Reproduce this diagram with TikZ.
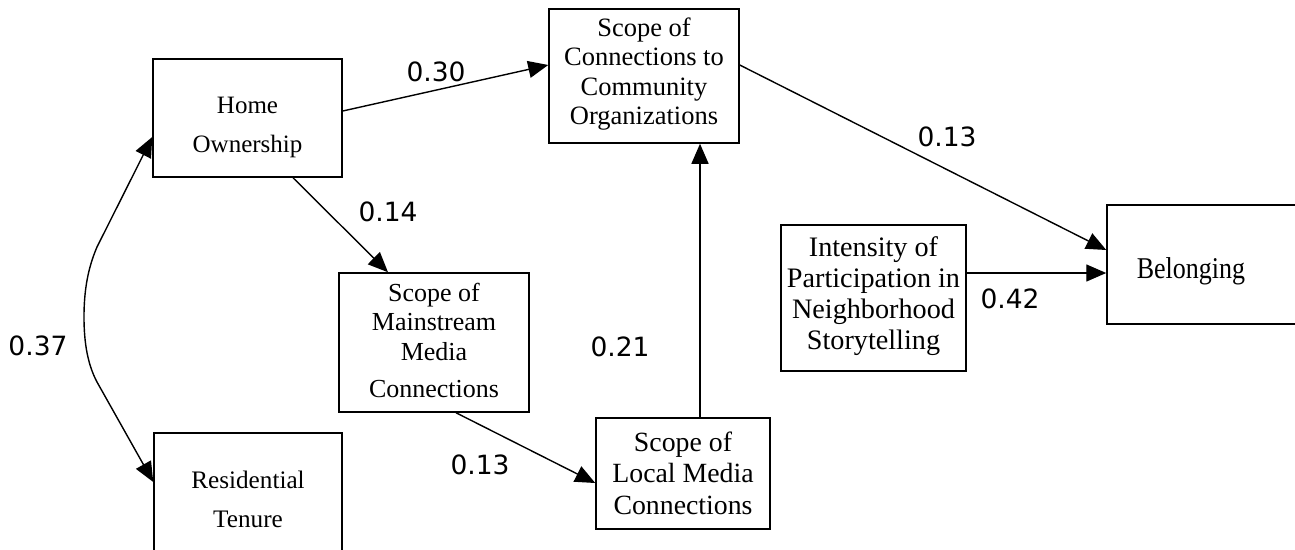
\documentclass[tikz,border=0pt]{standalone}
\usepackage{fontspec}
\usepackage{graphicx}
\setmainfont{Liberation Serif}
\newfontfamily\lblfont{DejaVu Sans}
\usetikzlibrary{arrows.meta}
\begin{document}
\begin{tikzpicture}[x=1pt,y=-1pt,
  box/.style={draw, line width=1.5pt, inner sep=0pt},
  txt/.style={inner sep=0pt, align=center},
  tip/.tip={Triangle[length=20pt,width=17pt]},
  conn/.style={line width=1.4pt, -tip},
  coef/.style={font=\lblfont\fontsize{26.5}{30}\selectfont, inner sep=0pt}]
\useasboundingbox (0,0) rectangle (1295,549);
\clip (0,0) rectangle (1295,549);
% boxes
\node[box, minimum width=189pt, minimum height=118pt] (home) at (247.5,118) {};
\node[txt, font=\fontsize{25}{39}\selectfont] (homeT) at (247.5,127.5) {Home\\Ownership};
\node[box, minimum width=188pt, minimum height=134pt] (resid) at (248,500) {};
\node[txt, font=\fontsize{25.2}{39}\selectfont] (residT) at (248,499) {Residential\\Tenure};
\node[box, minimum width=190pt, minimum height=134pt] (scope) at (644,76) {};
\node[txt, font=\fontsize{26.5}{29.3}\selectfont] (scopeT) at (644,74) {Scope of\\Connections to\\Community\\Organizations};
\node[box, minimum width=190pt, minimum height=139pt] (main) at (434,342.5) {};
\node[txt, font=\fontsize{26}{29.5}\selectfont] (mainT) at (434,340) {Scope of\\Mainstream\\Media\\[7.5pt]Connections};
\node[box, minimum width=174pt, minimum height=111pt] (local) at (683,473.5) {};
\node[txt, font=\fontsize{27.8}{31.5}\selectfont] (localT) at (683,473) {Scope of\\Local Media\\Connections};
\node[box, minimum width=185pt, minimum height=146pt] (intens) at (873.5,298) {};
\node[txt, font=\fontsize{28.2}{31}\selectfont] (intensT) at (873.5,296) {Intensity of\\Participation in\\Neighborhood\\Storytelling};
\node[box, minimum width=203pt, minimum height=119pt] (belong) at (1208.5,264.5) {};
\node[txt, font=\fontsize{26}{30}\selectfont] (belongT) at (1191,271.5) {\scalebox{1}[1.16]{Belonging}};
% connectors
\draw[conn] (home.east |- 0,111) -- (scope.west |- 0,65);
\draw[conn] (home.south -| 293,0) -- (main.north -| 388,0);
\draw[line width=1.4pt, tip-tip]
  (home.west |- 0,137) -- (97,247) .. controls (88,268) and (84,290) .. (84,317)
  .. controls (84,344) and (88,365) .. (97,382) -- (resid.west |- 0,482);
\draw[conn] (main.south -| 456,0) -- (local.west |- 0,483);
\draw[conn] (local.north -| 700,0) -- (scope.south -| 700,0);
\draw[conn] (scope.east |- 0,65) -- (belong.west |- 0,250);
\draw[conn] (intens.east |- 0,273) -- (belong.west |- 0,273);
% coefficients
\node[coef] (c30) at (436,72) {0.30};
\node[coef] (c14) at (388,212) {0.14};
\node[coef] (c37) at (38,346) {0.37};
\node[coef] (c21) at (620,347) {0.21};
\node[coef] (c13a) at (480,465) {0.13};
\node[coef] (c13b) at (947,137) {0.13};
\node[coef] (c42) at (1010,299) {0.42};
\end{tikzpicture}
\end{document}
